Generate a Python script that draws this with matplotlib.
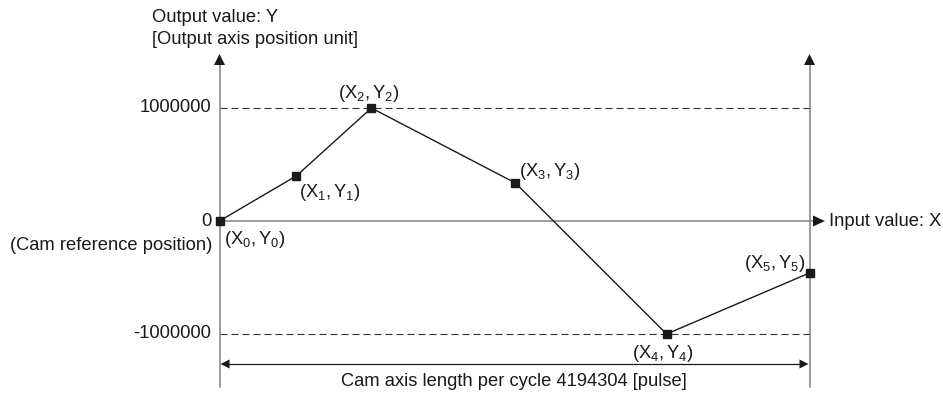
import matplotlib
matplotlib.use("Agg")
import matplotlib.pyplot as plt
from matplotlib.patches import Polygon

plt.rcParams['font.family'] = ['Liberation Sans', 'DejaVu Sans']
plt.rcParams['mathtext.fontset'] = 'custom'
plt.rcParams['mathtext.rm'] = 'Liberation Sans'
plt.rcParams['mathtext.it'] = 'Liberation Sans:italic'

# Cam data: one cycle of input (pulse) vs output (position unit)
cycle_length = 4194304
point_x = [0, 547000, 1080000, 2104000, 3178000, 4194304]
point_y = [0, 400000, 1000000, 336000, -1000000, -460000]
point_index = ['0', '1', '2', '3', '4', '5']
y_ticks = [1000000, 0, -1000000]
y_tick_labels = ['1000000', '0', '-1000000']

W, H = 943, 394
fig = plt.figure(figsize=(W / 100, H / 100), dpi=100)
ax = fig.add_axes([0, 0, 1, 1])
ax.set_axis_off()

# Layout of the drawing area in pixels
X0_PX, X_LEN_PX = 219.5, 590.0
Y0_PX, Y_UNIT_PX = 221.0, 113.0
ax.set_xlim(-X0_PX / X_LEN_PX * cycle_length, (W - X0_PX) / X_LEN_PX * cycle_length)
ax.set_ylim(-(H - Y0_PX) / Y_UNIT_PX * 1e6, Y0_PX / Y_UNIT_PX * 1e6)


def px(xp, yp):
    """Pixel position (from top-left) to data coordinates."""
    return ((xp - X0_PX) / X_LEN_PX * cycle_length,
            (Y0_PX - yp) / Y_UNIT_PX * 1e6)


def head(points):
    ax.add_patch(Polygon([px(*p) for p in points], closed=True,
                         facecolor='#1a1a1a', edgecolor='none', zorder=5))


AXIS_C = '#808080'
FS = 13.2
TXT_C = '#1a1a1a'

# Vertical axes (start and end of cycle)
for xv in (0, cycle_length):
    xp = X0_PX + xv / cycle_length * X_LEN_PX
    ax.plot([xv, xv], [px(0, 387)[1], px(0, 62)[1]], color=AXIS_C, lw=1.1, zorder=2)
    head([(xp, 54), (xp - 5.5, 65), (xp + 5.5, 65)])

# Horizontal zero axis
ax.plot([0, px(815, 0)[0]], [0, 0], color=AXIS_C, lw=1.1, zorder=2)
head([(825, Y0_PX), (813, Y0_PX - 5.5), (813, Y0_PX + 5.5)])

# Dashed reference levels
for yv in (y_ticks[0], y_ticks[2]):
    ax.plot([0, cycle_length], [yv, yv], color='#333333', lw=0.8,
            linestyle=(0, (6.3, 3.6)), zorder=1)

# Y tick labels
for yv, lab in zip(y_ticks, y_tick_labels):
    ax.text(px(211, 0)[0], yv, lab, ha='right', va='center', fontsize=FS, color=TXT_C)
ax.text(*px(212, 245), '(Cam reference position)', ha='right', va='center',
        fontsize=FS, color=TXT_C)

# Axis titles
ax.text(*px(152, 17), 'Output value: Y', ha='left', va='center', fontsize=FS, color=TXT_C)
ax.text(*px(152, 40), '[Output axis position unit]', ha='left', va='center',
        fontsize=FS, color=TXT_C)
ax.text(*px(829, 221), 'Input value: X', ha='left', va='center', fontsize=FS, color=TXT_C)

# Cam curve
ax.plot(point_x, point_y, color=TXT_C, lw=1.0, zorder=3)
ax.plot(point_x, point_y, linestyle='none', marker='s', markersize=5.8,
        color=TXT_C, zorder=4)

# Point labels: (offset in pixels, alignment)
label_place = [((5, -18), 'left'), ((3, -17), 'left'), ((-3, 15), 'center'),
               ((4, 12), 'left'), ((-4, -20), 'center'), ((-4, 9), 'right')]
for xv, yv, idx, (off, ha) in zip(point_x, point_y, point_index, label_place):
    ax.annotate(r'$\mathregular{(X_%s, Y_%s)}$' % (idx, idx), (xv, yv),
                xytext=off, textcoords='offset pixels', ha=ha, va='center',
                fontsize=FS, color=TXT_C)

# Cycle length dimension arrow
ya = px(0, 364)[1]
ax.plot([px(229, 0)[0], px(800, 0)[0]], [ya, ya], color=TXT_C, lw=0.9)
head([(X0_PX + 1, 364), (X0_PX + 10, 359.5), (X0_PX + 10, 368.5)])
head([(X0_PX + X_LEN_PX - 1, 364), (X0_PX + X_LEN_PX - 10, 359.5),
      (X0_PX + X_LEN_PX - 10, 368.5)])
ax.text(*px(514, 381), 'Cam axis length per cycle %d [pulse]' % cycle_length,
        ha='center', va='center', fontsize=FS, color=TXT_C)

fig.savefig('out.png', dpi=100)
